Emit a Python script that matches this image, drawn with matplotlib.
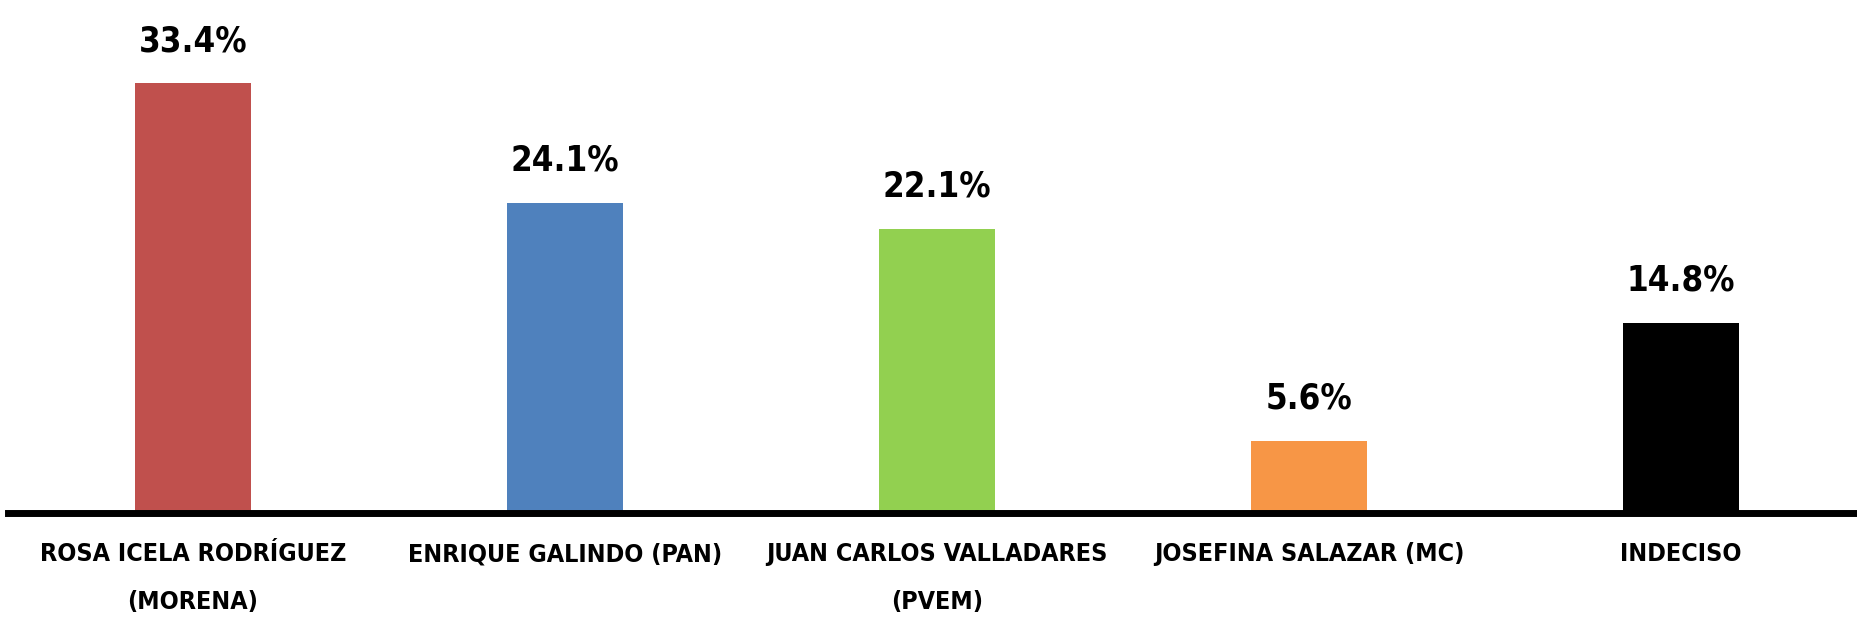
import matplotlib
matplotlib.use("Agg")
import matplotlib.pyplot as plt

candidatos = ["ROSA ICELA RODRÍGUEZ\n(MORENA)", "ENRIQUE GALINDO (PAN)",
              "JUAN CARLOS VALLADARES\n(PVEM)", "JOSEFINA SALAZAR (MC)", "INDECISO"]
porcentajes = [33.4, 24.1, 22.1, 5.6, 14.8]
colores = ["#C0504D", "#4F81BD", "#92D050", "#F79646", "#000000"]

plt.rcParams['font.family'] = ['DejaVu Sans']
plt.rcParams['font.stretch'] = 'condensed'
plt.rcParams['font.weight'] = 'bold'

fig = plt.figure(figsize=(18.58, 6.21), dpi=100)
ax = fig.add_axes([8 / 1858, 1 - 513 / 621, 1 - 8 / 1858, 513 / 621])

x = range(len(porcentajes))
bars = ax.bar(x, porcentajes, width=0.312, color=colores)

for b, v in zip(bars, porcentajes):
    ax.annotate(f"{v}%", (b.get_x() + b.get_width() / 2, v),
                xytext=(0, 23), textcoords="offset points",
                ha="center", va="baseline", fontsize=25, fontweight="bold",
                fontstretch="condensed")

ax.set_xlim(-0.497, 4.476)
ax.set_ylim(0, 39.86)
ax.set_xticks(list(x))
ax.set_xticklabels(candidatos, fontsize=18, fontweight="bold",
                   fontstretch="condensed", linespacing=2.25)
ax.tick_params(axis="x", length=0, pad=21)
ax.set_yticks([])
for s in ["top", "left", "right"]:
    ax.spines[s].set_visible(False)
ax.spines["bottom"].set_linewidth(5)
ax.spines["bottom"].set_zorder(3)

fig.savefig("out.png", dpi=100)
